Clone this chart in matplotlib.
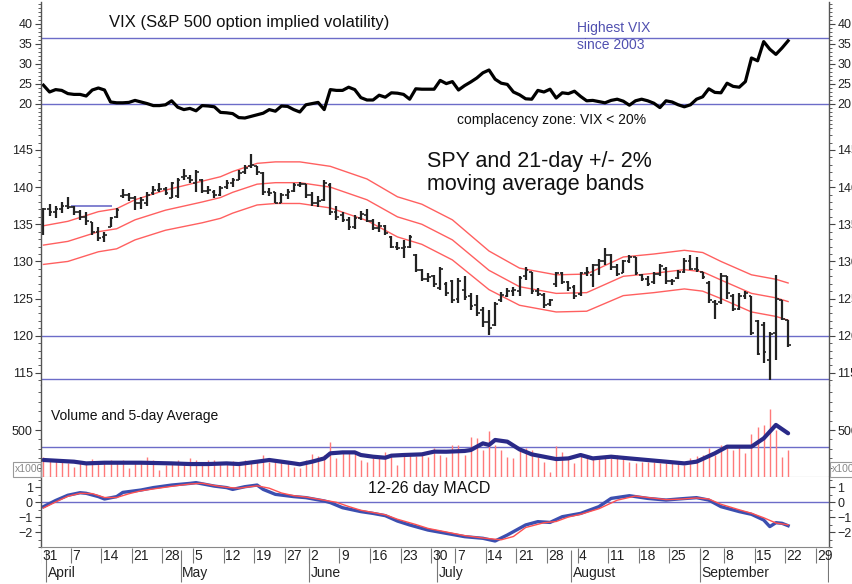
import numpy as np
import pandas as pd
import matplotlib
matplotlib.use('Agg')
import matplotlib.pyplot as plt
from matplotlib.patches import Rectangle

plt.rcParams['font.family'] = ['Liberation Sans', 'DejaVu Sans']

# ================= trading calendar (31 Mar - 1 Oct 2008) =================
holidays = pd.to_datetime(['2008-05-26', '2008-07-04', '2008-09-01'])
days = pd.bdate_range('2008-03-31', '2008-10-01')
days = days[~days.isin(holidays)]

# ================= data =================
vix = [24.7, 23.0, 23.6, 23.4, 22.6, 22.4, 22.4, 22.0, 23.5, 24.0,
       23.5, 20.5, 20.3, 20.3, 20.4, 20.9, 20.5, 20.1, 19.6, 19.6,
       19.8, 20.8, 19.2, 18.6, 18.9, 18.3, 19.6, 19.5, 19.3, 17.9,
       17.8, 17.6, 16.6, 16.5, 16.9, 17.3, 17.7, 18.6, 18.2, 19.5,
       19.4, 18.6, 18.0, 19.8, 20.1, 20.4, 18.6, 23.6, 23.4, 23.4,
       24.2, 23.6, 21.6, 21.0, 21.0, 22.2, 21.7, 22.8, 22.7, 22.4,
       21.2, 23.8, 23.7, 23.7, 23.7, 25.9, 25.1, 25.6, 23.5, 24.6,
       25.5, 26.5, 27.8, 28.5, 26.2, 25.2, 24.9, 23.0, 22.3, 21.3,
       21.2, 23.4, 23.0, 23.7, 21.5, 22.8, 22.6, 23.2, 21.9, 20.8,
       20.9, 20.6, 20.3, 20.9, 21.2, 20.7, 19.7, 20.8, 21.2, 20.8,
       20.2, 19.1, 20.8, 20.5, 19.8, 19.3, 19.8, 21.2, 21.8, 23.8,
       22.9, 22.8, 25.2, 24.4, 24.2, 25.6, 31.5, 30.8, 35.6, 33.7,
       32.4, 34.0, 35.8]

# SPY daily bars: open, high, low, close
spy_ohlc = [
    (133.8, 137.2, 133.5, 137.0), (137.0, 137.7, 136.1, 136.6), (136.6, 137.4, 135.9, 137.0),
    (137.0, 138.0, 136.5, 137.5), (137.4, 138.7, 137.0, 137.3), (137.3, 137.4, 136.3, 136.6),
    (136.6, 136.9, 135.6, 136.0), (136.0, 136.6, 134.9, 135.4), (135.3, 135.3, 133.6, 134.0),
    (134.0, 134.6, 132.8, 133.2), (133.3, 134.0, 132.6, 133.6), (134.7, 136.0, 134.6, 135.8),
    (136.0, 137.2, 135.8, 136.9), (138.8, 139.7, 138.6, 139.0), (139.0, 139.2, 138.2, 138.5),
    (138.5, 138.8, 136.9, 137.8), (137.8, 138.7, 137.0, 138.3), (137.8, 139.4, 137.5, 139.0),
    (139.2, 140.1, 139.0, 139.6), (139.6, 140.5, 139.3, 139.8), (139.8, 140.0, 138.9, 139.2),
    (138.6, 140.7, 138.5, 140.5), (138.8, 141.2, 138.6, 141.0), (141.3, 142.4, 141.0, 141.5),
    (141.2, 141.6, 140.5, 140.9), (140.5, 142.3, 139.4, 142.0), (141.0, 141.1, 139.2, 139.5),
    (139.5, 140.1, 139.1, 139.6), (139.3, 139.6, 138.6, 138.9), (139.0, 140.1, 138.8, 139.9),
    (140.0, 141.0, 139.8, 140.6), (140.6, 141.2, 140.0, 140.9), (141.0, 142.3, 140.9, 141.9),
    (142.0, 143.0, 141.8, 142.6), (142.8, 144.5, 142.6, 143.0), (142.8, 142.9, 141.7, 142.0),
    (141.9, 142.0, 139.0, 139.4), (139.4, 139.9, 138.8, 139.2), (139.3, 139.4, 137.8, 137.9),
    (137.9, 139.2, 137.8, 138.9), (138.9, 139.7, 138.4, 139.4), (139.5, 140.5, 139.3, 140.3),
    (140.3, 140.7, 140.0, 140.4), (140.4, 140.4, 138.6, 139.0), (139.0, 139.3, 137.4, 137.8),
    (137.8, 138.8, 137.3, 138.2), (138.3, 141.0, 138.2, 140.6), (140.3, 140.5, 136.2, 136.6),
    (136.6, 137.4, 135.6, 136.0), (136.2, 136.7, 135.3, 135.6), (135.6, 136.0, 134.2, 134.6),
    (134.6, 136.2, 134.3, 135.9), (135.9, 136.8, 135.6, 136.4), (136.3, 137.0, 135.3, 135.5),
    (135.5, 135.7, 134.2, 134.5), (134.5, 135.3, 134.0, 134.8), (134.8, 134.9, 133.5, 133.8),
    (133.3, 133.4, 131.8, 132.0), (132.0, 132.6, 131.5, 131.8), (131.8, 132.9, 130.4, 132.0),
    (132.0, 133.6, 131.8, 133.3), (130.8, 131.0, 128.6, 128.9), (128.9, 129.0, 127.3, 127.6),
    (127.6, 128.5, 127.2, 127.9), (128.0, 128.2, 126.6, 127.0), (126.4, 129.3, 126.2, 129.0),
    (127.0, 127.2, 125.3, 125.8), (127.4, 127.5, 124.4, 124.8), (125.0, 127.8, 124.4, 127.4),
    (126.2, 128.0, 124.8, 125.2), (125.3, 125.7, 123.5, 124.0), (124.2, 125.5, 122.6, 123.0),
    (123.4, 123.9, 121.2, 121.8), (121.8, 123.5, 120.1, 121.0), (121.5, 124.6, 121.3, 124.3),
    (124.8, 125.9, 124.6, 125.5), (125.4, 126.4, 125.2, 126.0), (126.0, 126.6, 125.3, 126.2),
    (126.0, 128.0, 125.3, 127.8), (128.0, 129.3, 127.5, 128.9), (128.6, 128.6, 125.6, 126.0),
    (126.0, 126.4, 125.3, 125.6), (125.5, 125.8, 123.7, 124.2), (124.3, 125.0, 124.0, 124.8),
    (127.0, 128.6, 126.6, 128.4), (128.4, 128.6, 127.0, 127.2), (127.2, 127.3, 126.0, 126.4),
    (126.5, 126.8, 125.0, 125.3), (125.6, 128.6, 125.4, 128.4), (128.4, 129.3, 128.0, 128.6),
    (128.2, 129.7, 126.6, 129.5), (129.5, 130.3, 128.2, 130.0), (130.0, 131.8, 129.5, 130.8),
    (130.8, 131.0, 128.8, 129.3), (129.3, 129.7, 128.0, 128.3), (128.5, 130.2, 128.4, 130.0),
    (130.0, 130.9, 129.8, 130.6), (130.6, 130.6, 128.2, 128.4), (128.2, 128.3, 127.3, 127.6),
    (127.6, 128.0, 126.7, 127.0), (127.2, 128.6, 127.0, 128.3), (128.3, 129.7, 128.1, 129.4),
    (129.0, 129.2, 127.0, 127.4), (127.4, 127.7, 126.8, 127.4), (127.8, 128.8, 127.6, 128.6),
    (128.6, 130.4, 128.5, 130.0), (130.0, 130.8, 128.8, 129.0), (129.0, 130.6, 128.6, 128.8),
    (128.6, 128.6, 127.6, 127.9), (127.1, 127.3, 124.4, 124.8), (124.6, 124.8, 122.3, 124.3),
    (124.5, 128.4, 124.3, 128.0), (128.0, 128.1, 125.0, 125.8), (125.4, 125.6, 123.3, 123.6),
    (123.6, 125.8, 123.5, 125.4), (125.4, 126.0, 124.9, 125.8), (125.3, 125.4, 120.1, 120.4),
    (122.0, 122.1, 117.4, 117.6), (121.5, 121.9, 116.3, 117.8), (116.8, 120.5, 114.0, 120.2),
    (120.4, 128.2, 116.7, 125.0), (124.8, 124.8, 122.1, 122.3), (122.1, 122.1, 118.5, 118.8),
]

# 21-day moving average bands (read at sample days)
band_days = [0, 4, 9, 12, 15, 20, 26, 29, 31, 35, 38, 42, 47, 53, 58, 62, 67, 73,
             78, 84, 89, 95, 100, 105, 108, 111, 116, 120, 122]
band_upper = [134.8, 135.4, 136.7, 137.1, 138.3, 139.6, 140.8, 141.4, 142.1, 143.2,
              143.4, 143.4, 142.8, 141.1, 138.7, 137.7, 135.6, 131.4, 129.1, 128.2,
              128.3, 130.6, 131.0, 131.5, 131.2, 130.0, 128.2, 127.6, 127.1]
band_mid = [132.2, 132.7, 134.0, 134.4, 135.6, 136.9, 138.0, 138.6, 139.3, 140.4,
            140.6, 140.6, 140.0, 138.3, 136.0, 135.0, 132.9, 128.8, 126.6, 125.7,
            125.8, 128.0, 128.4, 128.9, 128.6, 127.5, 125.7, 125.1, 124.6]
band_lower = [129.6, 130.0, 131.3, 131.7, 132.9, 134.2, 135.2, 135.8, 136.5, 137.6,
              137.8, 137.8, 137.2, 135.5, 133.3, 132.3, 130.2, 126.2, 124.1, 123.2,
              123.3, 125.4, 125.8, 126.3, 126.0, 125.0, 123.2, 122.6, 122.1]

volume = [216, 181, 170, 163, 145, 110, 163, 163, 191, 163,
          163, 181, 170, 181, 92, 145, 163, 216, 181, 74,
          128, 163, 181, 163, 198, 181, 163, 181, 181, 145,
          145, 170, 163, 181, 163, 181, 234, 163, 163, 163,
          145, 110, 92, 181, 241, 227, 234, 376, 198, 252,
          252, 252, 181, 163, 198, 227, 269, 234, 128, 234,
          241, 227, 252, 216, 310, 234, 216, 341, 341, 234,
          429, 419, 287, 493, 341, 287, 216, 198, 305, 305,
          287, 216, 163, 57, 333, 262, 216, 145, 234, 198,
          216, 216, 227, 198, 234, 198, 163, 145, 163, 163,
          163, 145, 145, 163, 145, 128, 198, 223, 234, 312,
          234, 341, 341, 287, 323, 252, 454, 536, 554, 724,
          500, 216, 287]

vol_avg_days = [0, 5, 7, 10, 16, 21, 24, 27, 30, 32, 35, 37, 39, 41, 42, 44, 46, 47,
                49, 51, 52, 54, 56, 57, 59, 62, 64, 66, 69, 70, 72, 73, 74, 76, 78, 80,
                82, 84, 86, 88, 90, 93, 96, 102, 105, 107, 110, 112, 116, 118, 120, 122]
vol_avg = [181, 163, 145, 152, 152, 145, 138, 138, 145, 138, 163, 181, 163, 145, 135, 163,
           198, 252, 262, 262, 234, 216, 205, 227, 234, 241, 270, 269, 277, 287, 358, 341,
           394, 376, 294, 241, 216, 191, 198, 234, 198, 216, 198, 163, 145, 163, 252, 323,
           323, 411, 554, 465]

macd_days = [0, 2, 4, 6, 7, 9, 10, 12, 13, 16, 18, 21, 24, 25, 28, 30, 31, 33, 35, 36,
             38, 41, 43, 46, 47, 49, 52, 54, 56, 58, 60, 63, 66, 69, 72, 74, 76, 79, 81, 83,
             85, 88, 91, 93, 96, 99, 102, 104, 107, 109, 111, 114, 116, 118, 119, 120, 121, 122]
macd = [-0.31, 0.1, 0.45, 0.62, 0.58, 0.36, 0.2, 0.36, 0.64, 0.8,
        0.96, 1.13, 1.24, 1.29, 1.06, 0.96, 0.84, 1.02, 1.13, 0.84,
        0.51, 0.36, 0.29, 0.07, -0.04, -0.38, -0.64, -0.76, -0.91, -1.27,
        -1.53, -1.87, -2.09, -2.31, -2.42, -2.6, -2.2, -1.53, -1.31, -1.36,
        -0.98, -0.76, -0.31, 0.24, 0.42, 0.24, 0.13, 0.2, 0.29, 0.13,
        -0.31, -0.64, -0.82, -1.2, -1.64, -1.38, -1.42, -1.58]
signal_days = [0, 2, 4, 6, 8, 10, 12, 14, 16, 19, 22, 24, 26, 28, 30, 32, 35, 37, 39, 41,
               43, 46, 48, 50, 52, 54, 56, 58, 61, 63, 66, 69, 72, 75, 77, 79, 82, 84, 86, 88,
               91, 94, 97, 99, 102, 104, 107, 109, 111, 114, 116, 118, 120, 122]
signal = [-0.4, 0.0, 0.38, 0.58, 0.56, 0.3, 0.3, 0.55, 0.75, 0.93,
          1.1, 1.2, 1.25, 1.1, 0.98, 0.92, 1.08, 0.92, 0.6, 0.42,
          0.33, 0.12, -0.02, -0.3, -0.55, -0.7, -0.85, -1.15, -1.5, -1.76,
          -2.0, -2.24, -2.4, -2.52, -2.3, -1.7, -1.38, -1.3, -1.0, -0.82,
          -0.45, 0.12, 0.4, 0.3, 0.16, 0.18, 0.27, 0.2, -0.15, -0.52,
          -0.75, -1.05, -1.4, -1.52]

month_names = ['April', 'May', 'June', 'July', 'August', 'September', '']

# ================= layout =================
BLUE = '#6c6cc8'
RED = '#ff6060'
INK = '#222222'
XMIN, XMAX = -0.4, 128.7

fig = plt.figure(figsize=(8.53, 5.84), dpi=100)


def panel(top, bottom):
    # top / bottom in pixel rows of the 853x584 image
    return fig.add_axes([41 / 853, 1 - bottom / 584, 788 / 853, (bottom - top) / 584])


ax_vix = panel(2, 130)
ax_spy = panel(130, 385)
ax_vol = panel(385, 477)
ax_macd = panel(477, 547)
ax_date = panel(547, 584)

for ax in (ax_vix, ax_spy, ax_vol, ax_macd):
    ax.set_xlim(XMIN, XMAX)
    ax.set_xticks([])
    for s in ('top', 'bottom'):
        ax.spines[s].set_visible(False)
    for s in ('left', 'right'):
        ax.spines[s].set_color('#555555')
        ax.spines[s].set_linewidth(1.0)
    ax.tick_params(axis='y', which='both', left=True, right=True, labelleft=True,
                   labelright=True, direction='out', colors='#444444', labelcolor=INK,
                   labelsize=9, pad=2)
    ax.tick_params(axis='y', which='major', length=4, width=0.8)
    ax.tick_params(axis='y', which='minor', length=2, width=0.6)
for ax in (ax_vol, ax_macd):
    ax.spines['bottom'].set_visible(True)
    ax.spines['bottom'].set_color('#888888')

x = np.arange(len(vix))

# ================= VIX =================
ax_vix.set_ylim(13.5, 45.5)
ax_vix.set_yticks([20, 25, 30, 35, 40])
ax_vix.set_yticks(np.arange(14, 46, 1), minor=True)
ax_vix.axhline(20, color=BLUE, lw=1)
ax_vix.axhline(36.4, color=BLUE, lw=1)
ax_vix.plot(x, vix, color='black', lw=2.3, solid_joinstyle='round')
ax_vix.text(10.7, 40.5, 'VIX (S&P 500 option implied volatility)', size=12,
            va='center', color='#111111')
ax_vix.text(87.4, 38.9, 'Highest VIX', size=10, va='center', color='#5050b0')
ax_vix.text(87.4, 34.75, 'since 2003', size=10, va='center', color='#5050b0')
ax_vix.text(67.7, 16.0, 'complacency zone: VIX < 20%', size=10, va='center', color='#111111')

# ================= SPY bars + bands =================
ax_spy.set_ylim(113.37, 147.69)
ax_spy.set_yticks([115, 120, 125, 130, 135, 140, 145])
ax_spy.set_yticks(np.arange(114, 148, 1), minor=True)
ax_spy.axhline(120, color=BLUE, lw=1)
ax_spy.axhline(114.2, color=BLUE, lw=1)
ax_spy.hlines(137.4, 4.45, 11.3, color=BLUE, lw=1.2)
ax_spy.plot(band_days, band_upper, color=RED, lw=1)
ax_spy.plot(band_days, band_mid, color=RED, lw=1)
ax_spy.plot(band_days, band_lower, color=RED, lw=1)
o, h, l, c = (np.array(v) for v in zip(*spy_ohlc))
ax_spy.vlines(x, l, h, color=INK, lw=1.6)
ax_spy.hlines(o, x - 0.45, x, color=INK, lw=1.2)
ax_spy.hlines(c, x, x + 0.45, color=INK, lw=1.2)
ax_spy.text(62.9, 143.4, 'SPY and 21-day +/- 2%', size=15.5, va='center', color='#111111')
ax_spy.text(62.9, 140.3, 'moving average bands', size=15.5, va='center', color='#111111')

# ================= volume =================
ax_vol.set_ylim(0, 979)
ax_vol.set_yticks([500])
ax_vol.set_yticks(np.arange(100, 1000, 100), minor=True)
ax_vol.axhline(316, color=BLUE, lw=1)
ax_vol.vlines(x, 0, volume, color='#ff7a7a', lw=1.0)
ax_vol.plot(vol_avg_days, vol_avg, color='#2a2a88', lw=3, solid_capstyle='round')
ax_vol.text(1.2, 649, 'Volume and 5-day Average', size=10, va='center', color='#111111')

# x1000 boxes at the left/right edge
for bx in (13, 830):
    fig.add_artist(Rectangle((bx / 853, 1 - 477 / 584), 28 / 853, 15 / 584,
                             transform=fig.transFigure, fill=False, ec='#999999', lw=0.8))
    fig.text((bx + 2) / 853, 1 - 469.5 / 584, 'x1000', size=7.5, va='center',
             color='#888888')

# ================= MACD =================
ax_macd.set_ylim(-3.0, 1.667)
ax_macd.set_yticks([-2, -1, 0, 1])
ax_macd.set_yticks(np.arange(-3, 1.6, 0.5), minor=True)
ax_macd.axhline(0, color=BLUE, lw=1)
ax_macd.plot(macd_days, macd, color='#3c4fb0', lw=2.4)
ax_macd.plot(signal_days, signal, color='#ff5050', lw=1)
ax_macd.text(53.1, 0.93, '12-26 day MACD', size=11.5, va='center', color='#111111')

# ================= date rows =================
ax_date.set_xlim(XMIN, XMAX)
ax_date.set_ylim(0, 1)
ax_date.axis('off')
pos = pd.Series(np.arange(len(days)), index=days)
week_first = pos.groupby(days.to_period('W')).min()
month_first = pos.groupby(days.to_period('M')).min()
month_first = month_first[month_first.index.month != 3]   # 31 March only opens the week
for i in week_first:
    ax_date.vlines(i - 0.5, 0.57, 0.97, color='#777777', lw=0.8)
    ax_date.text(i - 0.25, 0.76, str(days[i].day), size=10, va='center', color=INK)
for i, name in zip(month_first, month_names):
    ax_date.vlines(i - 0.5, 0.06, 0.92, color='#777777', lw=0.8)
    if name:
        ax_date.text(i - 0.25, 0.29, name, size=10, va='center', color=INK)

fig.savefig('out.png', dpi=100)
